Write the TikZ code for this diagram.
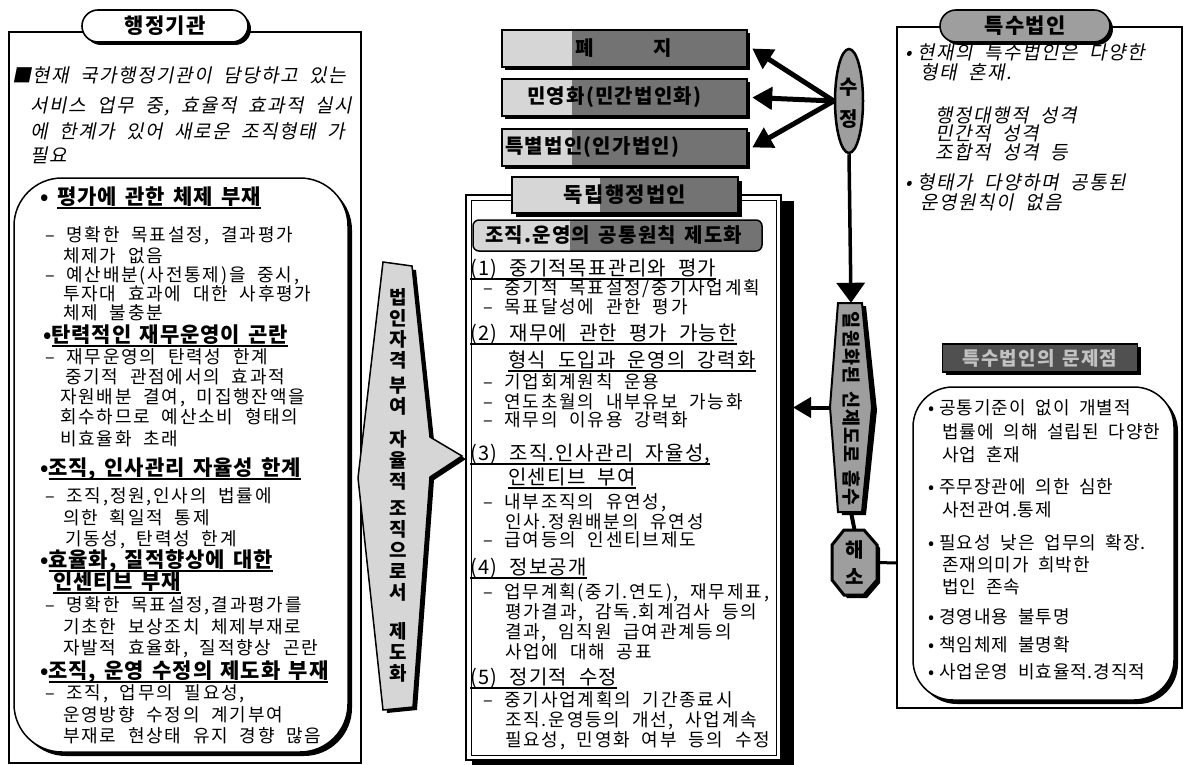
\documentclass[tikz,border=0pt]{standalone}
\usepackage{fontspec}
\newfontfamily\kr{Noto Sans CJK KR}[WordSpace=2,LetterSpace=10]
\newfontfamily\krh{Noto Sans CJK KR}[WordSpace=1.5,LetterSpace=4]
\newfontfamily\krm{Noto Sans CJK KR}[WordSpace=2,LetterSpace=7]
\newfontfamily\krr{Noto Sans CJK KR}[WordSpace=2,LetterSpace=5]
\newfontfamily\krb{Noto Sans CJK KR}[WordSpace=1.5,LetterSpace=6]
\newfontfamily\krit{Noto Sans CJK KR}[FakeSlant=0.2,WordSpace=2,LetterSpace=8]
\usetikzlibrary{arrows.meta,shapes.misc,shapes.geometric,shadows}
\definecolor{lg}{gray}{0.84}
\definecolor{dg}{gray}{0.45}
\definecolor{mg}{gray}{0.62}
\newcommand\myul[1]{\setbox0=\hbox{#1}\rlap{\rule[-4pt]{\wd0}{1.4pt}}\box0}
\begin{document}
\begin{tikzpicture}[x=1pt,y=-1pt,
 body/.style={font=\kr\fontsize{18}{20}\selectfont, anchor=base west, inner sep=0pt, yshift=-6.5pt},
 head/.style={font=\krh\bfseries\fontsize{21}{22}\selectfont, anchor=base west, inner sep=0pt, yshift=-7.5pt},
 mhead/.style={font=\krm\fontsize{20}{22}\selectfont, anchor=base west, inner sep=0pt, yshift=-7.5pt},
 ital/.style={font=\krit\fontsize{19}{22}\selectfont, anchor=base west, inner sep=0pt, yshift=-7pt},
 rbody/.style={font=\krr\fontsize{18}{20}\selectfont, anchor=base west, inner sep=0pt, yshift=-6.5pt},
 bt/.style={font=\krb\bfseries\fontsize{20}{22}\selectfont, inner sep=0pt},
 shad/.style={drop shadow={shadow xshift=3pt,shadow yshift=-3pt,opacity=1,fill=black}},
 pill/.style={rounded rectangle, draw, line width=1.6pt, minimum width=166pt, minimum height=32pt, inner sep=0pt, shad, font=\krb\bfseries\fontsize{21}{24}\selectfont},
 bigarr/.style={line width=5pt, -{Triangle[length=20pt,width=22pt]}},
 thk/.style={line width=1.8pt},
]
\useasboundingbox (0,0) rectangle (1185,765);
\fill[white] (0,0) rectangle (1185,765);

% ================= LEFT =================
\draw[line width=1.2pt] (9,32) rectangle (361,763);
\node[pill, fill=white] (t1) at (165,26) {행정기관};
\node[ital] (i1) at (12,76) {■현재 국가행정기관이 담당하고 있는};
\node[ital] (i2) at (30,106) {서비스 업무 중, 효율적 효과적 실시};
\node[ital] (i3) at (30,132) {에 한계가 있어 새로운 조직형태 가};
\node[ital] (i4) at (30,155) {필요};

\fill[black, rounded corners=48pt] (18,182) rectangle (352,756);
\draw[fill=white, line width=1.5pt, rounded corners=48pt] (14,178) rectangle (348,752);

\node[head] (l1) at (40,197) {• \myul{평가에 관한 체제 부재}};
\node[body] (l2) at (45,235) {– 명확한 목표설정, 결과평가};
\node[body] (l3) at (63,256) {체제가 없음};
\node[body] (l4) at (45,275) {– 예산배분(사전통제)을 중시,};
\node[body] (l5) at (63,294) {투자대 효과에 대한 사후평가};
\node[body] (l6) at (63,313) {체제 불충분};
\node[head] (l7) at (43,335) {•\myul{탄력적인 재무운영이 곤란}};
\node[body] (l8) at (45,357) {– 재무운영의 탄력성 한계};
\node[body] (l9) at (65,377) {중기적 관점에서의 효과적};
\node[body] (l10) at (60,397) {자원배분 결여, 미집행잔액을};
\node[body] (l11) at (60,417) {회수하므로 예산소비 형태의};
\node[body] (l12) at (60,439) {비효율화 초래};
\node[head] (l13) at (40,468) {•\myul{조직, 인사관리 자율성 한계}};
\node[body] (l14) at (45,496) {– 조직,정원,인사의 법률에};
\node[body] (l15) at (63,518) {의한 획일적 통제};
\node[body] (l16) at (65,539) {기동성, 탄력성 한계};
\node[head] (l17) at (40,560) {•\myul{효율화, 질적향상에 대한}};
\node[head] (l18) at (53,582) {\myul{인센티브 부재}};
\node[body] (l19) at (45,605) {– 명확한 목표설정,결과평가를};
\node[body] (l20) at (63,627) {기초한 보상조치 체제부재로};
\node[body] (l21) at (63,648) {자발적 효율화, 질적향상 곤란};
\node[head] (l22) at (40,671) {•\myul{조직, 운영 수정의 제도화 부재}};
\node[body] (l23) at (45,693) {– 조직, 업무의 필요성,};
\node[body] (l24) at (63,715) {운영방향 수정의 계기부여};
\node[body] (l25) at (63,736) {부재로 현상태 유지 경향 많음};

% banner
\fill[black] (387,266) -- (416,270) -- (434,440) -- (466,459) -- (434,480) -- (417,710) -- (387,713) -- (362,481) -- cycle;
\draw[fill=lg, line width=1.5pt] (383,262) -- (412,266) -- (430,437) -- (462,456) -- (430,477) -- (413,707) -- (383,710) -- (358,478) -- cycle;
\node[font=\krb\bfseries\fontsize{19}{21}\selectfont, align=center, inner sep=0pt] (ban) at (398,485)
 {법\\인\\자\\격\\[4pt]부\\여\\[12pt]자\\율\\적\\[6pt]조\\직\\으\\로\\서\\[18pt]제\\도\\화};

% ================= MIDDLE =================
\fill[black] (505,33) rectangle (750,70);
\fill[dg] (502,30) rectangle (747,67);
\fill[lg] (502,30) rectangle (572,67);
\draw[thk] (502,30) rectangle (747,67);
\node[minimum width=245pt, minimum height=37pt, inner sep=0pt] (bar1) at (624.5,48.5) {};
\node[bt] (b1a) at (585,48.5) {폐};
\node[bt] (b1b) at (663,48.5) {지};

\fill[black] (505,82) rectangle (750,119);
\fill[dg] (502,79) rectangle (747,116);
\fill[lg] (502,79) rectangle (572,116);
\draw[thk] (502,79) rectangle (747,116);
\node[minimum width=245pt, minimum height=37pt, inner sep=0pt] (bar2) at (624.5,97.5) {};
\node[bt, anchor=west] (b2t) at (527,97.5) {민영화(민간법인화)};

\fill[black] (505,132) rectangle (750,169);
\fill[dg] (502,129) rectangle (747,166);
\fill[lg] (502,129) rectangle (572,166);
\draw[thk] (502,129) rectangle (747,166);
\node[minimum width=245pt, minimum height=37pt, inner sep=0pt] (bar3) at (624.5,147.5) {};
\node[bt, anchor=west] (b3t) at (505,147.5) {특별법인(인가법인)};

\node[ellipse, draw, line width=2.5pt, fill=mg, minimum width=28pt, minimum height=104pt, inner sep=0pt] (sj) at (849,101) {};
\node[bt, font=\krb\bfseries\fontsize{20}{32}\selectfont, align=center] (sjt) at (849,103) {수\\정};
\draw[bigarr] (sj.west) -- ([xshift=5pt]bar1.east);
\draw[bigarr] (sj.west) -- ([xshift=5pt]bar2.east);
\draw[bigarr] (sj.west) -- ([xshift=5pt]bar3.east);

\fill[black] (472,201) rectangle (794,766);
\draw[fill=white, line width=1.5pt] (466,195) rectangle (781,760);
\draw[line width=0.8pt] (471,200) rectangle (776,755);

\fill[black] (516,181) rectangle (742,217);
\fill[dg] (512,177) rectangle (738,213);
\fill[lg] (512,177) rectangle (600,213);
\draw[thk] (512,177) rectangle (738,213);
\node[bt, font=\krb\bfseries\fontsize{21}{24}\selectfont] (tab) at (625,195) {독립행정법인};

\begin{scope}
\clip[rounded corners=6pt] (473,220) rectangle (762,251);
\fill[dg] (473,220) rectangle (762,251);
\fill[lg] (473,220) rectangle (570,251);
\end{scope}
\draw[line width=1.5pt, rounded corners=6pt] (473,220) rectangle (762,251);
\node[bt, anchor=west] (subt) at (485,235.5) {조직.운영의 공통원칙 제도화};

\node[mhead] (m1) at (470,268) {\myul{(1) 중기적목표관리와 평가}};
\node[body] (m2) at (483,288) {– 중기적 목표설정/중기사업계획};
\node[body] (m3) at (483,307) {– 목표달성에 관한 평가};
\node[mhead] (m4) at (470,333) {\myul{(2) 재무에 관한 평가 가능한}};
\node[mhead] (m5) at (508,360) {\myul{형식 도입과 운영의 강력화}};
\node[body] (m6) at (483,382) {– 기업회계원칙 운용};
\node[body] (m7) at (483,402) {– 연도초월의 내부유보 가능화};
\node[body] (m8) at (483,420) {– 재무의 이유용 강력화};
\node[mhead] (m9) at (470,453) {\myul{(3) 조직.인사관리 자율성,}};
\node[mhead] (m10) at (508,477) {\myul{인센티브 부여}};
\node[body] (m11) at (483,502) {– 내부조직의 유연성,};
\node[body] (m12) at (505,522) {인사.정원배분의 유연성};
\node[body] (m13) at (483,540) {– 급여등의 인센티브제도};
\node[mhead] (m14) at (470,567) {\myul{(4) 정보공개}};
\node[body] (m15) at (483,592) {– 업무계획(중기.연도), 재무제표,};
\node[body] (m16) at (505,612) {평가결과, 감독.회계검사 등의};
\node[body] (m17) at (505,632) {결과, 임직원 급여관계등의};
\node[body] (m18) at (505,652) {사업에 대해 공표};
\node[mhead] (m19) at (470,677) {\myul{(5) 정기적 수정}};
\node[body] (m20) at (483,700) {– 중기사업계획의 기간종료시};
\node[body] (m21) at (505,720) {조직.운영등의 개선, 사업계속};
\node[body] (m22) at (505,740) {필요성, 민영화 여부 등의 수정};

\node[minimum width=42pt, minimum height=209pt, inner sep=0pt] (hxb) at (851,407.5) {};
\fill[black] (842,306) -- (866,306) -- (877,410) -- (866,515) -- (842,515) -- (834,410) -- cycle;
\draw[fill=mg, line width=2pt] (838,303) -- (862,303) -- (872,407) -- (862,512) -- (838,512) -- (830,407) -- cycle;
\node[rotate=-90, font=\krb\bfseries\fontsize{18.5}{20}\selectfont, inner sep=0pt] (hxt) at (851,409) {일원화된 신제도로 흡수};
\draw[line width=3.5pt, -{Triangle[length=20pt,width=28pt]}] (sj.south) -- (hxb.north);
\coordinate (la) at (793,407.5);
\draw[line width=4pt, -{Triangle[length=18pt,width=20pt]}] (hxb.west) -- (la);

\fill[black] (847,533) -- (867,533) -- (880,548) -- (880,583) -- (867,598) -- (847,598) -- (835,583) -- (835,548) -- cycle;
\draw[fill=mg, line width=3pt] (844,530) -- (864,530) -- (877,545) -- (877,580) -- (864,595) -- (844,595) -- (832,580) -- (832,545) -- cycle;
\node[minimum width=45pt, minimum height=65pt, inner sep=0pt] (hs) at (854.5,562.5) {};
\node[font=\krb\bfseries\fontsize{20}{27}\selectfont, align=center, inner sep=0pt] (hst) at (854.5,563) {해\\소};
\draw[line width=4pt] (hxb.south) -- (hs.north);
\coordinate (rbl) at (897,563);
\draw[line width=3pt] (hs.east) -- (rbl);

% ================= RIGHT =================
\draw[line width=1.2pt] (897,27) rectangle (1182,708);
\node[pill, fill=mg, minimum width=170pt] (t2) at (1025,26) {특수법인};
\node[ital] (r1) at (905,53) {•\hspace{6pt}현재의 특수법인은 다양한};
\node[ital] (r2) at (920,73) {형태 혼재.};
\node[ital] (r3) at (935,115) {행정대행적 성격};
\node[ital] (r4) at (935,133) {민간적 성격};
\node[ital] (r5) at (935,152) {조합적 성격 등};
\node[ital] (r6) at (905,182) {•\hspace{6pt}형태가 다양하며 공통된};
\node[ital] (r7) at (920,202) {운영원칙이 없음};

\node[draw, line width=1.5pt, fill=dg!70!black, minimum width=195pt, minimum height=28pt, shad, text=lg!80!dg, font=\krb\bfseries\fontsize{19}{22}\selectfont] (t3) at (1040,358) {특수법인의 문제점};

\fill[black, rounded corners=40pt] (917,391) rectangle (1178,704);
\draw[fill=white, line width=1.5pt, rounded corners=40pt] (913,387) rectangle (1174,700);
\node[rbody] (q1) at (928,408) {•\hspace{5pt}공통기준이 없이 개별적};
\node[rbody] (q2) at (942,432) {법률에 의해 설립된 다양한};
\node[rbody] (q3) at (942,455) {사업 혼재};
\node[rbody] (q4) at (928,487) {•\hspace{5pt}주무장관에 의한 심한};
\node[rbody] (q5) at (942,510) {사전관여.통제};
\node[rbody] (q6) at (928,543) {•\hspace{5pt}필요성 낮은 업무의 확장.};
\node[rbody] (q7) at (942,565) {존재의미가 희박한};
\node[rbody] (q8) at (942,587) {법인 존속};
\node[rbody] (q9) at (928,617) {•\hspace{5pt}경영내용 불투명};
\node[rbody] (q10) at (928,645) {•\hspace{5pt}책임체제 불명확};
\node[rbody] (q11) at (928,672) {•\hspace{5pt}사업운영 비효율적.경직적};
\end{tikzpicture}
\end{document}
